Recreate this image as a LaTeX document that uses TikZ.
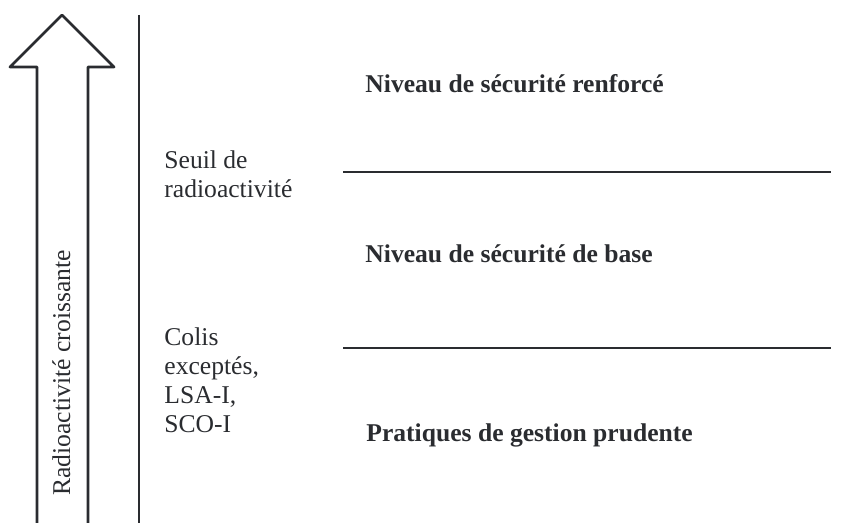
\documentclass[tikz,border=0pt]{standalone}
\usepackage{fontspec}
\setmainfont{Liberation Serif}
\usepackage{xcolor}
\definecolor{ink}{HTML}{2A2C30}
\tikzset{thickline/.style={draw=ink, line width=1.4pt},
 label/.style={text=ink, inner sep=0pt, align=left, font=\fontsize{12.8}{14.5}\selectfont},
 level/.style={label, anchor=base west, font=\fontsize{12.8}{14.5}\selectfont\bfseries},
 }

\begin{document}
\begin{tikzpicture}[x=0.5pt, y=-0.5pt]
        \useasboundingbox (0, 0) rectangle (841, 523);
        \draw[thickline, line join=round] (37, 523) -- (37, 67) -- (10, 67) -- (62, 15) -- (114, 67) -- (88, 67) -- (88, 523);
        \node[label, anchor=base west, rotate=90] (growth) at (70, 496) {Radioactivité croissante};
        \draw[thickline] (139, 15) -- (139, 523);
        \foreach \y[count=\i] in {172, 348} {
            \draw[thickline] (343, \y) coordinate (start\i) -- (831, \y) coordinate (end\i);
        }
        \node[label, anchor=north west] (threshold) at (164, 150) {Seuil de\\radioactivité};
        \node[label, anchor=north west] (excepted) at (164, 327) {Colis\\exceptés,\\LSA-I,\\SCO-I};
        \node[level] (reinforced) at (365, 93) {Niveau de sécurité renforcé};
        \node[level] (basic) at (365, 263) {Niveau de sécurité de base};
        \node[level] (prudent) at (366, 442) {Pratiques de gestion prudente};
    \end{tikzpicture}
\end{document}
